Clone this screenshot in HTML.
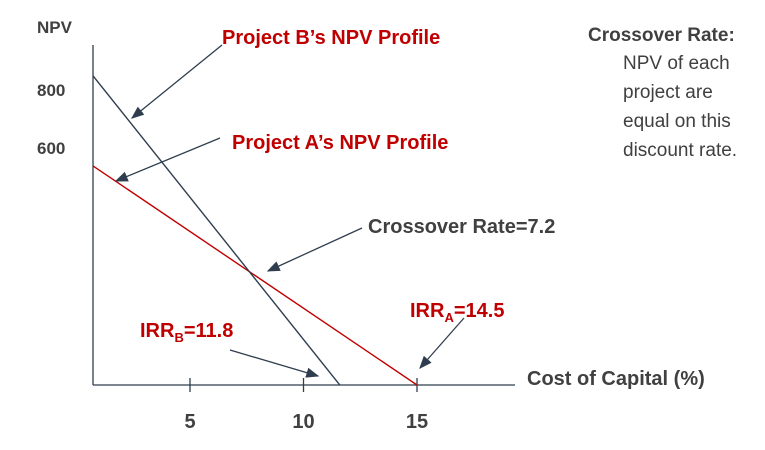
<!DOCTYPE html>
<html><head><meta charset="utf-8"><style>
body{margin:0;background:#fff;}
svg text{font-family:"Liberation Sans",sans-serif;}
</style></head><body>
<svg width="765" height="445" viewBox="0 0 765 445">
<defs><marker id="ah" markerWidth="10" markerHeight="8" refX="9" refY="4" orient="auto"><path d="M0,0 L10,4 L0,8 z" fill="#2f3e4e"/></marker></defs>
<g id="axes"></g>
<g id="lines"></g>
<g stroke="#2f3e4e" stroke-width="1.3" fill="none">
<line x1="222" y1="45" x2="132" y2="118" marker-end="url(#ah)"/>
<line x1="220" y1="138" x2="116" y2="181" marker-end="url(#ah)"/>
<line x1="362" y1="228" x2="268" y2="271" marker-end="url(#ah)"/>
<line x1="464" y1="318" x2="420" y2="368" marker-end="url(#ah)"/>
<line x1="230" y1="350" x2="318" y2="376" marker-end="url(#ah)"/>
</g>
<text x="37" y="33" font-size="17" font-weight="bold" fill="#404040">NPV</text>
<text x="527" y="385" font-size="20" font-weight="bold" fill="#404040">Cost of Capital (%)</text>
<text x="222" y="44" font-size="20" font-weight="bold" fill="#c00000">Project B’s NPV Profile</text>
<text x="232" y="149" font-size="20" font-weight="bold" fill="#c00000">Project A’s NPV Profile</text>
<text x="368" y="233" font-size="20" font-weight="bold" fill="#404040">Crossover Rate=7.2</text>
<text x="410" y="317" font-size="20" font-weight="bold" fill="#c00000">IRR<tspan font-size="13" dy="5">A</tspan><tspan dy="-5">=14.5</tspan></text>
<text x="140" y="337" font-size="20" font-weight="bold" fill="#c00000">IRR<tspan font-size="13" dy="5">B</tspan><tspan dy="-5">=11.8</tspan></text>
<g fill="#404040" font-size="19">
<text x="588" y="41" font-weight="bold">Crossover Rate:</text>
<text x="623" y="69">NPV of each</text>
<text x="623" y="98">project are</text>
<text x="623" y="127">equal on this</text>
<text x="623" y="156">discount rate.</text>
</g>
</svg>
<script>
const xTicks=[5,10,15];
const yTickLabels=[800,600];
const yTickPos=[90,148];
const projects=["A","B"];
const npvAtZero=[624,894];
const irrValues=[15.0,11.6];
const colors=["#c00000","#2f3e4e"];
const ns="http://www.w3.org/2000/svg";
const x0=93,xEnd=515,yAxis=385,yTop=45;
function xs(r){return 76.5+r*22.7;}
function ys(v){return 385-v*0.369;}
function mk(t,a,p){const e=document.createElementNS(ns,t);for(const k in a)e.setAttribute(k,a[k]);p.appendChild(e);return e;}
const ax=document.getElementById('axes');
const xa=mk('line',{x1:x0,y1:yAxis,x2:xEnd,y2:yAxis,stroke:'#2f3e4e','stroke-width':1.3},ax);


const ya=mk('line',{x1:x0,y1:yTop,x2:x0,y2:yAxis,stroke:'#2f3e4e','stroke-width':1.3},ax);


xTicks.forEach(t=>{
 const l=mk('line',{x1:xs(t),y1:yAxis-7,x2:xs(t),y2:yAxis+7,stroke:'#2f3e4e','stroke-width':1.3},ax);
 
 
 const tx=mk('text',{x:xs(t),y:428,'text-anchor':'middle','font-size':20,'font-weight':'bold',fill:'#404040'},ax);
 tx.textContent=t;
 
 
});
yTickLabels.forEach((v,i)=>{
 const tx=mk('text',{x:37,y:yTickPos[i]+6,'font-size':17,'font-weight':'bold',fill:'#404040'},ax);
 tx.textContent=v;
 
 
});
const lg=document.getElementById('lines');
const rStart=(x0-76.5)/22.7;
projects.forEach((p,i)=>{
 const n0=npvAtZero[i],irr=irrValues[i];
 const v=n0*(1-rStart/irr);
 const l=mk('line',{x1:x0,y1:ys(v),x2:xs(irr),y2:ys(0),stroke:colors[i],'stroke-width':1.4},lg);
 
 
});
</script>
</body></html>
